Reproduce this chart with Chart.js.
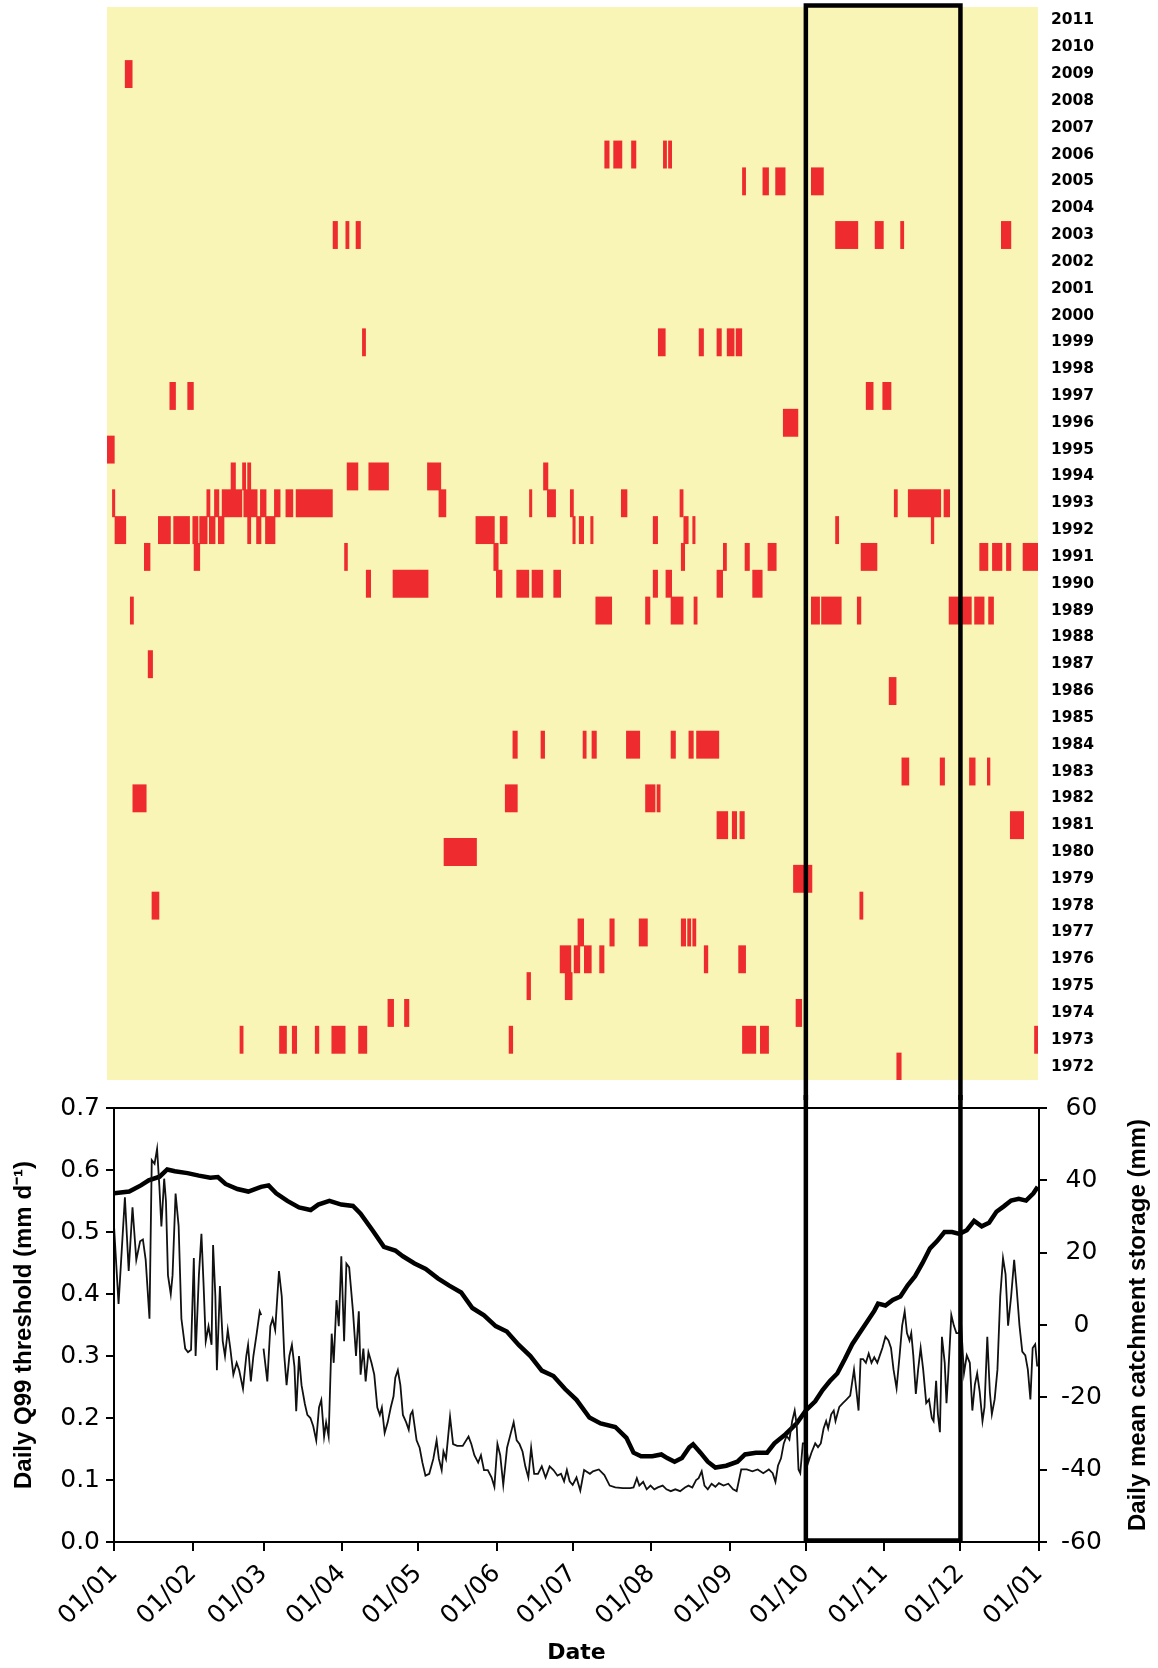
<!DOCTYPE html>
<html>
<head>
<meta charset="utf-8">
<script src="https://cdn.jsdelivr.net/npm/chart.js@4.4.0/dist/chart.umd.min.js"></script>
<style>
  html, body { margin: 0; padding: 0; background: #fff; }
  body { width: 1158px; height: 1668px; position: relative; overflow: hidden; }
  #topWrap { position: absolute; left: 0; top: 0; width: 1158px; height: 1100px; }
  #bottomWrap { position: absolute; left: 0; top: 1095px; width: 1158px; height: 573px; }
</style>
</head>
<body>
<div id="topWrap"><canvas id="eventChart"></canvas></div>
<div id="bottomWrap"><canvas id="seriesChart"></canvas></div>
<script>
// Years shown on the right of the event panel (top to bottom)
var yearLabels = [2011, 2010, 2009, 2008, 2007, 2006, 2005, 2004, 2003, 2002,
  2001, 2000, 1999, 1998, 1997, 1996, 1995, 1994, 1993, 1992,
  1991, 1990, 1989, 1988, 1987, 1986, 1985, 1984, 1983, 1982,
  1981, 1980, 1979, 1978, 1977, 1976, 1975, 1974, 1973, 1972];

// Drought days below Q99 - one entry per run (year, first day, last day of year)
var eventYear = [
  2009,
  2006, 2006, 2006, 2006, 2006,
  2005, 2005, 2005, 2005,
  2003, 2003, 2003, 2003, 2003, 2003, 2003,
  1999, 1999, 1999, 1999, 1999, 1999,
  1997, 1997, 1997, 1997,
  1996,
  1995,
  1994, 1994, 1994, 1994, 1994, 1994, 1994,
  1993, 1993, 1993, 1993, 1993, 1993, 1993, 1993, 1993, 1993, 1993, 1993, 1993, 1993, 1993, 1993, 1993, 1993,
  1992, 1992, 1992, 1992, 1992, 1992, 1992, 1992, 1992, 1992, 1992, 1992, 1992, 1992, 1992, 1992, 1992, 1992, 1992, 1992,
  1991, 1991, 1991, 1991, 1991, 1991, 1991, 1991, 1991, 1991, 1991, 1991, 1991,
  1990, 1990, 1990, 1990, 1990, 1990, 1990, 1990, 1990, 1990,
  1989, 1989, 1989, 1989, 1989, 1989, 1989, 1989, 1989, 1989, 1989,
  1987,
  1986,
  1984, 1984, 1984, 1984, 1984, 1984, 1984, 1984,
  1983, 1983, 1983, 1983,
  1982, 1982, 1982, 1982,
  1981, 1981, 1981, 1981,
  1980,
  1979,
  1978, 1978,
  1977, 1977, 1977, 1977, 1977, 1977,
  1976, 1976, 1976, 1976, 1976, 1976,
  1975, 1975,
  1974, 1974, 1974,
  1973, 1973, 1973, 1973, 1973, 1973, 1973, 1973, 1973, 1973,
  1972
];
var eventStart = [
  7,
  195, 198.5, 205.5, 218, 220,
  249, 257, 262, 276,
  88.5, 93.5, 97.5, 285.5, 301, 311, 350.5,
  100, 216, 232, 239, 243, 246.5,
  24.5, 31.5, 297.5, 304,
  265,
  0,
  48.5, 53, 55, 94, 102.5, 125.5, 171,
  2, 39, 42, 45, 53.5, 60, 65.5, 70, 74, 130, 165.5, 172.5, 181.5, 201.5, 224.5, 308.5, 314, 328,
  3, 20, 26, 33.5, 36.2, 40, 43.5, 55, 58.5, 62, 144.5, 154, 182.5, 185, 189.5, 214, 226, 229.5, 285.5, 323,
  14.5, 34, 93, 151.5, 225, 241.5, 250, 259, 295.5, 342, 347, 352.5, 359,
  101.5, 112, 152.5, 160.5, 166.5, 175, 214, 219, 239, 253,
  9, 191.5, 211, 221, 230, 276, 280, 294, 330, 340, 345.5,
  16,
  306.5,
  159, 170, 186.5, 190, 203.5, 221, 228, 231,
  311.5, 326.5, 338, 345,
  10, 156, 211, 215.5,
  239, 245, 248, 354,
  132,
  269,
  17.5, 295,
  184.5, 197, 208.5, 225, 227.5, 229.5,
  177.5, 183, 187, 193, 234, 247.5,
  164.5, 179.5,
  110, 116.5, 270,
  52, 67.5, 72.5, 81.5, 88, 98.5, 157.5, 249, 256, 363.5,
  309.5
];
var eventEnd = [
  10,
  197, 202, 207.5, 219.5, 221.5,
  250.5, 259.5, 266, 281,
  90.5, 95, 99.5, 294.5, 304.5, 312.5, 354.5,
  101.5, 219, 234, 241, 246, 249,
  27, 34, 300.5, 307.5,
  271,
  3,
  50.5, 54.5, 56.5, 98.5, 110.5, 131, 173,
  3.2, 40.5, 44, 53, 59, 62.5, 68, 73, 88.5, 133, 166.7, 176, 183, 204, 226, 310, 327, 330.5,
  7.5, 25, 32.5, 35.8, 39.4, 42.5, 46, 56.5, 60.5, 66, 152, 157, 183.7, 187, 190.7, 216, 228, 230.7, 287, 324.3,
  17, 36.5, 94.4, 153.5, 226.6, 243, 252, 262.5, 302, 345.5, 351, 354.5, 365,
  103.5, 126, 155, 165.5, 171, 178, 216, 221.5, 241.5, 257,
  10.5, 198, 213, 226, 231.5, 279.5, 288, 295.7, 339, 344, 347.7,
  18,
  309.5,
  161, 171.7, 188, 192, 209, 223, 230, 240,
  314.5, 328.5, 340.5, 346.3,
  15.5, 161, 215, 217,
  243.5, 247, 250, 359.5,
  145,
  276.5,
  20.5, 296.5,
  187, 199, 212, 227, 229, 231,
  182, 185.5, 190, 195, 235.7, 250.5,
  166.2, 182.5,
  112.5, 118.5, 272.5,
  53.5, 70.5, 74.5, 83.2, 93.5, 102, 159.2, 254.5, 259.5, 365,
  311.5
];

// Month ticks of the lower panel (day of year)
var monthDays = [0, 31, 59, 90, 120, 151, 181, 212, 243, 273, 304, 334, 365];
var monthLabels = ['01/01', '01/02', '01/03', '01/04', '01/05', '01/06', '01/07',
  '01/08', '01/09', '01/10', '01/11', '01/12', '01/01'];

// Highlighted period (01/10 - 01/12)
var focusStart = 273;
var focusEnd = 334;

// Daily Q99 threshold (mm/d), thin line
var q99Day = [
  0, 1.8, 4.3, 5.8, 7.3, 8.8, 10.3, 11.4, 12.5, 14, 14.9, 16, 17, 17.9, 18.7, 19.8, 20.5, 21.3, 22.4, 23.1,
  24.3, 25.5, 26.6, 28.1, 29.2, 30.4, 31.5, 32.2, 33.5, 34.5, 35.3, 36.2, 37.3, 38.5, 39.1, 40, 40.6, 41.8, 42.9, 43.8,
  44.9, 45.9, 47.1, 48.4, 49.4, 50.9, 52.2, 52.9, 54, 55, 56.3, 57.5, 58.1, 58.6, 59, 60.5, 61.7, 62.6, 63.6, 65.1,
  66.2, 67.2, 68.1, 69.2, 70.2, 71.2, 71.9, 73, 74, 75.3, 76.3, 77.5, 78.6, 79.8, 80.9, 81.8, 82.9, 83.7, 84.7, 85.9,
  86.7, 87.8, 88.7, 89.7, 90.8, 91.7, 92.8, 94.3, 95.5, 96.6, 97.3, 98.4, 99.3, 100.4, 101.6, 102.7, 103.9, 104.9, 105.7, 106.8,
  108, 109.2, 110.3, 111, 112, 113, 114, 115.3, 116.3, 117, 117.8, 119.4, 120.6, 121.7, 122.9, 124.4, 126, 127.3, 128.2, 129.3,
  130, 131, 132.6, 133.8, 135.4, 137.6, 139.9, 141, 142.2, 143.7, 144.8, 146, 147.5, 149, 150.1, 151.3, 152.4, 153.6, 155.1, 156.6,
  157.7, 158.9, 160, 161.2, 162.3, 163.5, 164.6, 165.8, 167.3, 168.8, 170.3, 171.9, 173.4, 175, 176.4, 177.6, 178.7, 179.8, 181, 182.5,
  184, 185.5, 187.8, 189, 191.3, 193.5, 195.6, 197.8, 200.8, 203.7, 205, 206.3, 207.3, 208.8, 210.2, 211.7, 213.2, 214.6, 216.5, 218,
  219.7, 221.5, 223.4, 225.3, 226.7, 228.2, 229.7, 230.7, 231.9, 233, 234.3, 235.8, 237.3, 238.7, 240.5, 242.4, 244.3, 245.7, 247.5, 249.7,
  251.9, 254, 256.2, 258.4, 259.9, 261, 262, 263.2, 264.3, 265.4, 266.5, 267.6, 268.6, 269.4, 270.1, 270.8, 271.8, 273, 274, 275.2,
  276.7, 277.8, 278.9, 280, 281, 281.8, 283, 284, 284.7, 286.2, 287.6, 289.1, 290.5, 292, 293, 293.8, 294.6, 295.6, 296.7, 297.8,
  298.9, 300, 301.2, 302.2, 303.2, 304.4, 305.6, 306.6, 307.6, 308.8, 310, 311, 312, 312.9, 313.9, 314.6, 315.4, 316.4, 317.3, 318.3,
  319.3, 320.5, 321.6, 322.7, 323.4, 324.4, 325.1, 325.9, 326.7, 327.8, 328.5, 329.2, 330.4, 331.4, 332.4, 333.3, 334.3, 335.4, 336.5, 337.7,
  338.7, 339.7, 340.6, 341.6, 342.7, 343.5, 344.6, 345.6, 346.4, 347.5, 348.6, 349.7, 350.8, 351.8, 352.8, 354, 355.2, 356.2, 357.3, 358.4,
  359.6, 360.6, 361.6, 362.5, 363.5, 364.3
];
var q99Value = [
  0.51, 0.384, 0.556, 0.437, 0.54, 0.455, 0.485, 0.488, 0.455, 0.36, 0.616, 0.61, 0.634, 0.574, 0.509, 0.586, 0.55, 0.43, 0.4, 0.43,
  0.562, 0.51, 0.36, 0.312, 0.306, 0.31, 0.458, 0.3, 0.43, 0.497, 0.42, 0.324, 0.348, 0.318, 0.479, 0.396, 0.277, 0.413, 0.324, 0.3,
  0.342, 0.312, 0.27, 0.289, 0.277, 0.247, 0.3, 0.318, 0.259, 0.3, 0.336, 0.372, 0.366, null, 0.312, 0.259, 0.348, 0.36, 0.342, 0.437,
  0.396, 0.3, 0.253, 0.3, 0.318, 0.283, 0.211, 0.3, 0.253, 0.223, 0.205, 0.2, 0.187, 0.164, 0.217, 0.229, 0.17, 0.193, 0.17, 0.336,
  0.289, 0.39, 0.348, 0.461, 0.324, 0.449, 0.443, 0.372, 0.3, 0.372, 0.27, 0.312, 0.259, 0.306, 0.289, 0.27, 0.217, 0.205, 0.217, 0.176,
  0.193, 0.217, 0.235, 0.265, 0.277, 0.253, 0.205, 0.193, 0.181, 0.205, 0.211, 0.164, 0.152, 0.128, 0.107, 0.11, 0.134, 0.164, 0.134, 0.116,
  0.146, 0.134, 0.202, 0.158, 0.155, 0.155, 0.17, 0.158, 0.14, 0.128, 0.14, 0.116, 0.116, 0.104, 0.089, 0.158, 0.14, 0.092, 0.152, 0.176,
  0.193, 0.164, 0.158, 0.146, 0.122, 0.104, 0.152, 0.11, 0.11, 0.122, 0.104, 0.122, 0.116, 0.107, 0.11, 0.098, 0.116, 0.098, 0.092, 0.104,
  0.083, 0.116, 0.11, 0.114, 0.117, 0.108, 0.091, 0.088, 0.087, 0.087, 0.088, 0.103, 0.091, 0.097, 0.085, 0.091, 0.085, 0.088, 0.091, 0.085,
  0.082, 0.085, 0.082, 0.088, 0.091, 0.088, 0.1, 0.103, 0.114, 0.091, 0.085, 0.094, 0.089, 0.095, 0.091, 0.094, 0.085, 0.082, 0.117, 0.117,
  0.114, 0.117, 0.111, 0.117, 0.111, 0.097, 0.123, 0.135, 0.159, 0.171, 0.165, 0.195, 0.212, 0.189, 0.117, 0.111, 0.159, 0.159, 0.129, 0.144,
  0.159, 0.153, 0.159, 0.183, 0.195, 0.183, 0.206, 0.212, 0.195, 0.218, 0.224, 0.23, 0.236, 0.278, 0.242, 0.212, 0.295, 0.295, 0.289, 0.304,
  0.289, 0.298, 0.289, 0.301, 0.313, 0.331, 0.325, 0.313, 0.278, 0.248, 0.301, 0.349, 0.372, 0.337, 0.325, 0.337, 0.301, 0.239, 0.278, 0.313,
  0.278, 0.224, 0.23, 0.2, 0.195, 0.26, 0.206, 0.177, 0.331, 0.289, 0.224, 0.272, 0.366, 0.349, 0.337, 0.337, 0.349, 0.272, 0.301, 0.289,
  0.212, 0.254, 0.272, 0.242, 0.195, 0.218, 0.331, 0.242, 0.206, 0.23, 0.278, 0.396, 0.458, 0.432, 0.349, 0.396, 0.455, 0.408, 0.349, 0.307,
  0.301, 0.278, 0.23, 0.313, 0.319, 0.283
];

// Daily mean catchment storage (mm), thick line
var storageDay = [
  0, 6, 10.6, 13.7, 18, 21, 24, 29, 33.5, 38, 41, 44, 48.7, 53, 58, 61, 64, 68.4, 73, 77.6,
  80.6, 85, 89.7, 94.3, 97.3, 102, 106.5, 111, 114, 118.6, 123, 127.8, 132.3, 137, 141.4, 146, 150.6, 155, 159.7, 164.3,
  168.8, 173.4, 178, 182.5, 187.6, 192, 197.8, 202.2, 205, 208, 212.4, 216, 218.3, 221.2, 224.1, 227, 228.5, 231.4, 234.3, 237.3,
  241.6, 246, 249, 253.3, 257.7, 260.6, 265, 269.4, 273, 276.7, 279.6, 282.5, 285.4, 288.4, 291.3, 294.2, 297.1, 300, 301.5, 304.4,
  307.3, 310.3, 313.2, 316.1, 319, 322, 324.8, 327.7, 330.7, 333.6, 336.5, 339.4, 342.4, 345.3, 348.2, 351.1, 354, 357, 359.9, 362.8,
  364.5
];
var storageValue = [
  36.4, 36.9, 38.6, 40, 41, 43, 42.5, 42, 41.3, 40.7, 40.9, 39, 37.6, 36.9, 38.2, 38.6, 36.4, 34.3, 32.5, 31.8,
  33.3, 34.3, 33.3, 32.9, 30.8, 26.2, 21.6, 20.6, 19, 17, 15.5, 12.9, 10.9, 9, 4.7, 2.7, -0.3, -1.8, -5.5, -8.6,
  -12.6, -14.1, -17.7, -20.7, -25.6, -27.2, -28.2, -31.2, -35.3, -36.3, -36.3, -35.8, -36.8, -37.8, -36.8, -33.8, -33, -35.3, -37.8, -39.4,
  -38.9, -37.8, -35.8, -35.3, -35.3, -32.7, -30.2, -27.2, -23.6, -21.1, -18, -15.5, -13.4, -9.4, -5.3, -2.2, 0.8, 3.9, 5.9, 5.4,
  6.9, 7.9, 11, 13.5, 17.1, 21.2, 23.2, 25.7, 25.7, 25.2, 26.2, 28.8, 27.3, 28.3, 31.3, 32.8, 34.4, 34.9, 34.4, 36.4,
  38.2
];

var eventBars = eventYear.map(function (yr, i) {
  return { y: String(yr), x: [eventStart[i], eventEnd[i]] };
});
var q99Points = q99Day.map(function (d, i) { return { x: d, y: q99Value[i] }; });
var storagePoints = storageDay.map(function (d, i) { return { x: d, y: storageValue[i] }; });

var seriesChart; // lower panel, its x scale also places the frame in the upper panel

// scales keep their size but must not push the plot area around
function noEdgePadding(s) {
  s.paddingTop = 0; s.paddingBottom = 0; s.paddingLeft = 0; s.paddingRight = 0;
}

var yellowBg = {
  id: 'yellowBg',
  beforeDatasetsDraw: function (chart) {
    var a = chart.chartArea, ctx = chart.ctx;
    ctx.save();
    ctx.fillStyle = '#f8f5b6';
    ctx.fillRect(a.left, a.top, a.right - a.left, a.bottom - a.top);
    ctx.restore();
  }
};

// the black frame around Oct-Nov runs through both panels
var focusBoxTop = {
  id: 'focusBoxTop',
  afterDraw: function (chart) {
    var ctx = chart.ctx;
    var xs = seriesChart ? seriesChart.scales.x : chart.scales.x;
    var x0 = xs.getPixelForValue(focusStart), x1 = xs.getPixelForValue(focusEnd);
    ctx.save();
    ctx.strokeStyle = '#000';
    ctx.lineWidth = 4.5;
    ctx.beginPath();
    ctx.moveTo(x0, chart.height);
    ctx.lineTo(x0, 5.5);
    ctx.lineTo(x1, 5.5);
    ctx.lineTo(x1, chart.height);
    ctx.stroke();
    ctx.restore();
  }
};

var focusBoxBottom = {
  id: 'focusBoxBottom',
  afterDraw: function (chart) {
    var ctx = chart.ctx, a = chart.chartArea, xs = chart.scales.x;
    var x0 = xs.getPixelForValue(focusStart), x1 = xs.getPixelForValue(focusEnd);
    ctx.save();
    // frame of the plot area (top edge has no axis)
    ctx.strokeStyle = '#000';
    ctx.lineWidth = 2;
    ctx.strokeRect(a.left, a.top, a.right - a.left, a.bottom - a.top);
    ctx.lineWidth = 4.5;
    ctx.beginPath();
    ctx.moveTo(x0, 0);
    ctx.lineTo(x0, a.bottom - 1.5);
    ctx.lineTo(x1, a.bottom - 1.5);
    ctx.lineTo(x1, 0);
    ctx.stroke();
    // right axis title reads bottom to top
    ctx.translate(1138, (a.top + a.bottom) / 2);
    ctx.rotate(-Math.PI / 2);
    ctx.fillStyle = '#000';
    ctx.font = 'bold 24px "Liberation Sans"';
    ctx.textAlign = 'center';
    ctx.textBaseline = 'middle';
    ctx.fillText('Daily mean catchment storage (mm)', 0, 0);
    ctx.restore();
  }
};

var tickFont = { family: 'DejaVu Sans', size: 25 };

seriesChart = new Chart(document.getElementById('seriesChart'), {
  type: 'line',
  data: {
    datasets: [{
      label: 'Daily Q99 threshold',
      data: q99Points,
      yAxisID: 'yQ',
      borderColor: '#111',
      borderWidth: 1.8,
      pointRadius: 0,
      spanGaps: false,
      tension: 0
    }, {
      label: 'Daily mean catchment storage',
      data: storagePoints,
      yAxisID: 'yS',
      borderColor: '#000',
      borderWidth: 4.5,
      pointRadius: 0,
      tension: 0
    }]
  },
  options: {
    responsive: true,
    maintainAspectRatio: false,
    animation: false,
    devicePixelRatio: 1,
    layout: { padding: { top: 13, left: 0, right: 0, bottom: 0 } },
    plugins: { legend: { display: false }, tooltip: { enabled: false } },
    scales: {
      x: {
        type: 'linear',
        min: 0,
        max: 365,
        afterBuildTicks: function (s) { s.ticks = monthDays.map(function (v) { return { value: v }; }); },
        ticks: {
          autoSkip: false, minRotation: 45, maxRotation: 45, padding: 8, color: '#000', font: tickFont,
          callback: function (v, i) { return monthLabels[i]; }
        },
        grid: { drawOnChartArea: false, drawTicks: true, tickLength: 9, color: '#000', lineWidth: 2 },
        border: { display: true, color: '#000', width: 2 },
        title: { display: true, text: 'Date', color: '#000', font: { family: 'DejaVu Sans', size: 22, weight: 'bold' }, padding: { top: 0, bottom: 2 } },
        afterFit: function (s) { s.height = 126; noEdgePadding(s); }
      },
      yQ: {
        type: 'linear',
        position: 'left',
        min: 0,
        max: 0.7,
        ticks: { stepSize: 0.1, padding: 6, color: '#000', font: tickFont, callback: function (v) { return v.toFixed(1); } },
        grid: { drawOnChartArea: false, drawTicks: true, tickLength: 8, color: '#000', lineWidth: 2 },
        border: { display: true, color: '#000', width: 2 },
        title: { display: true, text: 'Daily Q99 threshold (mm d\u207B\u00B9)', color: '#000', font: { family: 'Liberation Sans', size: 24, weight: 'bold' }, padding: { top: 10, bottom: 0 } },
        afterFit: function (s) { s.width = 114; noEdgePadding(s); }
      },
      yS: {
        type: 'linear',
        position: 'right',
        min: -60,
        max: 60,
        ticks: { stepSize: 20, padding: 14, crossAlign: 'center', color: '#000', font: tickFont },
        grid: { drawOnChartArea: false, drawTicks: true, tickLength: 8, color: '#000', lineWidth: 2 },
        border: { display: true, color: '#000', width: 2 },
        afterFit: function (s) { s.width = 119; noEdgePadding(s); }
      }
    }
  },
  plugins: [focusBoxBottom]
});

new Chart(document.getElementById('eventChart'), {
  type: 'bar',
  data: {
    labels: yearLabels.map(String),
    datasets: [{
      data: eventBars,
      backgroundColor: '#ee2b2e',
      borderWidth: 0,
      barPercentage: 1.04,
      categoryPercentage: 1
    }]
  },
  options: {
    indexAxis: 'y',
    responsive: true,
    maintainAspectRatio: false,
    animation: false,
    devicePixelRatio: 1,
    layout: { padding: { left: 107, top: 7, bottom: 20, right: 0 } },
    plugins: { legend: { display: false }, tooltip: { enabled: false } },
    scales: {
      x: { type: 'linear', min: 0, max: 365, display: false },
      y: {
        type: 'category',
        position: 'right',
        grid: { display: false, drawTicks: false },
        border: { display: false },
        ticks: { padding: 13, color: '#000', font: { family: 'DejaVu Sans', size: 15.5, weight: 'bold' } },
        afterFit: function (s) { s.width = 120; noEdgePadding(s); }
      }
    }
  },
  plugins: [yellowBg, focusBoxTop]
});
</script>
</body>
</html>
